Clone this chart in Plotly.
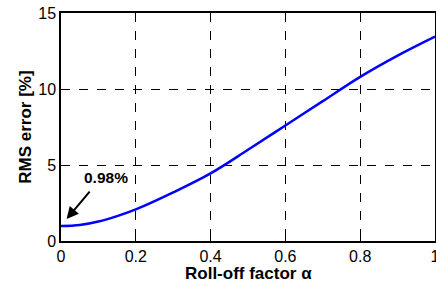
import plotly.graph_objects as go

alpha = [0.0, 0.05, 0.1, 0.15, 0.2, 0.3, 0.4, 0.5, 0.6, 0.7, 0.8, 0.9, 1.0]
rms_err = [0.98, 1.05, 1.28, 1.64, 2.08, 3.2, 4.45, 6.0, 7.6, 9.2, 10.8, 12.2, 13.45]

x_ticks = [0, 0.2, 0.4, 0.6, 0.8, 1]
x_ticklabels = ["0", "0.2", "0.4", "0.6", "0.8", "1"]
y_ticks = [0, 5, 10, 15]

fig = go.Figure()
fig.add_trace(go.Scatter(x=alpha, y=rms_err, mode="lines",
                         line=dict(color="#0000ff", width=2.5, shape="spline", smoothing=1.0),
                         showlegend=False))

axis_common = dict(showline=True, linecolor="black", linewidth=1.5, mirror=True,
                   ticks="inside", ticklen=4, tickcolor="black",
                   showgrid=True, gridcolor="black", gridwidth=1, griddash="dash",
                   zeroline=False, automargin=False,
                   tickfont=dict(family="Liberation Sans", size=16, color="black"))

fig.update_xaxes(range=[0, 1], tickvals=x_ticks, ticktext=x_ticklabels,
                 ticklabeloverflow="allow", **axis_common)
fig.update_yaxes(range=[0, 15], tickvals=y_ticks, **axis_common)

title_font = dict(family="Liberation Sans", size=17, color="black")
fig.add_annotation(x=0.5, y=-0.143, xref="paper", yref="paper", yanchor="middle",
                   text="<b>Roll-off factor α</b>", showarrow=False, font=title_font)
fig.add_annotation(x=-0.097, y=0.5, xref="paper", yref="paper", xanchor="center",
                   text="<b>RMS error [%]</b>", textangle=-90, showarrow=False,
                   font=title_font)

fig.add_annotation(x=0.015, y=1.45, ax=0.08, ay=3.35, xref="x", yref="y",
                   axref="x", ayref="y", text="", showarrow=True,
                   arrowhead=2, arrowsize=1.2, arrowwidth=2, arrowcolor="black")
fig.add_annotation(x=0.12, y=4.2, xref="x", yref="y", text="<b>0.98%</b>",
                   showarrow=False,
                   font=dict(family="Liberation Sans", size=15.5, color="black"))

fig.update_layout(width=436, height=284, margin=dict(l=61, r=1, t=13, b=43),
                  plot_bgcolor="white", paper_bgcolor="white")

fig.write_html("out.html", config={"displayModeBar": False},
               post_script="document.body.style.margin='0';document.body.style.overflow='hidden';")
